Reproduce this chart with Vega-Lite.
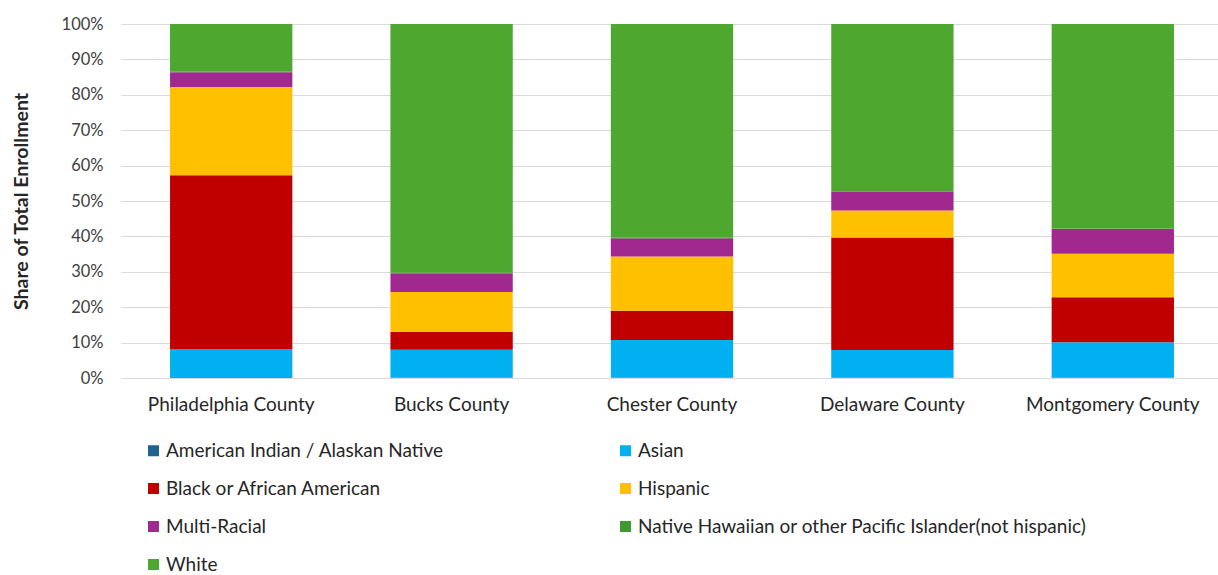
{
  "$schema": "https://vega.github.io/schema/vega-lite/v6.json",
  "width": 1102,
  "height": 354,
  "autosize": {"type": "none"},
  "padding": {"left": 121, "top": 24, "right": 0, "bottom": 197},
  "background": "white",
  "config": {
    "font": "Lato",
    "view": {"stroke": null}
  },
  "data": {
    "values": [
      {"county": "Philadelphia County", "group": "American Indian / Alaskan Native", "share": 0.002},
      {"county": "Philadelphia County", "group": "Asian", "share": 0.080},
      {"county": "Philadelphia County", "group": "Black or African American", "share": 0.491},
      {"county": "Philadelphia County", "group": "Hispanic", "share": 0.249},
      {"county": "Philadelphia County", "group": "Multi-Racial", "share": 0.042},
      {"county": "Philadelphia County", "group": "Native Hawaiian or other Pacific Islander(not hispanic)", "share": 0.001},
      {"county": "Philadelphia County", "group": "White", "share": 0.135},
      {"county": "Bucks County", "group": "American Indian / Alaskan Native", "share": 0.001},
      {"county": "Bucks County", "group": "Asian", "share": 0.079},
      {"county": "Bucks County", "group": "Black or African American", "share": 0.051},
      {"county": "Bucks County", "group": "Hispanic", "share": 0.112},
      {"county": "Bucks County", "group": "Multi-Racial", "share": 0.053},
      {"county": "Bucks County", "group": "Native Hawaiian or other Pacific Islander(not hispanic)", "share": 0.001},
      {"county": "Bucks County", "group": "White", "share": 0.703},
      {"county": "Chester County", "group": "American Indian / Alaskan Native", "share": 0.001},
      {"county": "Chester County", "group": "Asian", "share": 0.106},
      {"county": "Chester County", "group": "Black or African American", "share": 0.083},
      {"county": "Chester County", "group": "Hispanic", "share": 0.153},
      {"county": "Chester County", "group": "Multi-Racial", "share": 0.052},
      {"county": "Chester County", "group": "Native Hawaiian or other Pacific Islander(not hispanic)", "share": 0.001},
      {"county": "Chester County", "group": "White", "share": 0.604},
      {"county": "Delaware County", "group": "American Indian / Alaskan Native", "share": 0.001},
      {"county": "Delaware County", "group": "Asian", "share": 0.078},
      {"county": "Delaware County", "group": "Black or African American", "share": 0.318},
      {"county": "Delaware County", "group": "Hispanic", "share": 0.076},
      {"county": "Delaware County", "group": "Multi-Racial", "share": 0.054},
      {"county": "Delaware County", "group": "Native Hawaiian or other Pacific Islander(not hispanic)", "share": 0.001},
      {"county": "Delaware County", "group": "White", "share": 0.472},
      {"county": "Montgomery County", "group": "American Indian / Alaskan Native", "share": 0.001},
      {"county": "Montgomery County", "group": "Asian", "share": 0.100},
      {"county": "Montgomery County", "group": "Black or African American", "share": 0.127},
      {"county": "Montgomery County", "group": "Hispanic", "share": 0.123},
      {"county": "Montgomery County", "group": "Multi-Racial", "share": 0.070},
      {"county": "Montgomery County", "group": "Native Hawaiian or other Pacific Islander(not hispanic)", "share": 0.001},
      {"county": "Montgomery County", "group": "White", "share": 0.578}
    ]
  },
  "mark": {"type": "bar"},
  "encoding": {
    "x": {
      "field": "county",
      "type": "nominal",
      "sort": ["Philadelphia County", "Bucks County", "Chester County", "Delaware County", "Montgomery County"],
      "scale": {"paddingInner": 0.445, "paddingOuter": 0.2225},
      "axis": {
        "title": null,
        "labelAngle": 0,
        "labelFontSize": 19,
        "labelColor": "#262626",
        "labelPadding": 17,
        "ticks": false,
        "domain": false,
        "grid": false
      }
    },
    "y": {
      "field": "share",
      "type": "quantitative",
      "aggregate": "sum",
      "stack": "zero",
      "scale": {"domain": [0, 1], "nice": false},
      "axis": {
        "title": "Share of Total Enrollment",
        "titleFontSize": 19.5,
        "titleFontWeight": "bold",
        "titleColor": "#262626",
        "titlePadding": 30,
        "format": ".0%",
        "values": [0, 0.1, 0.2, 0.3, 0.4, 0.5, 0.6, 0.7, 0.8, 0.9, 1],
        "labelFontSize": 16.5,
        "labelColor": "#404040",
        "labelPadding": 18,
        "ticks": false,
        "domain": false,
        "grid": true,
        "gridColor": "#d9d9d9",
        "gridWidth": 1.2
      }
    },
    "order": {"field": "group", "sort": "ascending"},
    "color": {
      "field": "group",
      "type": "nominal",
      "scale": {
        "domain": [
          "American Indian / Alaskan Native",
          "Asian",
          "Black or African American",
          "Hispanic",
          "Multi-Racial",
          "Native Hawaiian or other Pacific Islander(not hispanic)",
          "White"
        ],
        "range": ["#1F6391", "#00B0F0", "#C00000", "#FFC000", "#A0288F", "#3E9A2E", "#4EA72E"]
      },
      "legend": {
        "title": null,
        "orient": "none",
        "legendX": 23,
        "legendY": 417,
        "direction": "horizontal",
        "columns": 2,
        "columnPadding": 172,
        "rowPadding": 18,
        "symbolType": "square",
        "symbolSize": 121,
        "symbolStrokeWidth": 0,
        "labelFontSize": 19,
        "labelColor": "#262626",
        "labelOffset": 3,
        "labelLimit": 600
      }
    }
  }
}
